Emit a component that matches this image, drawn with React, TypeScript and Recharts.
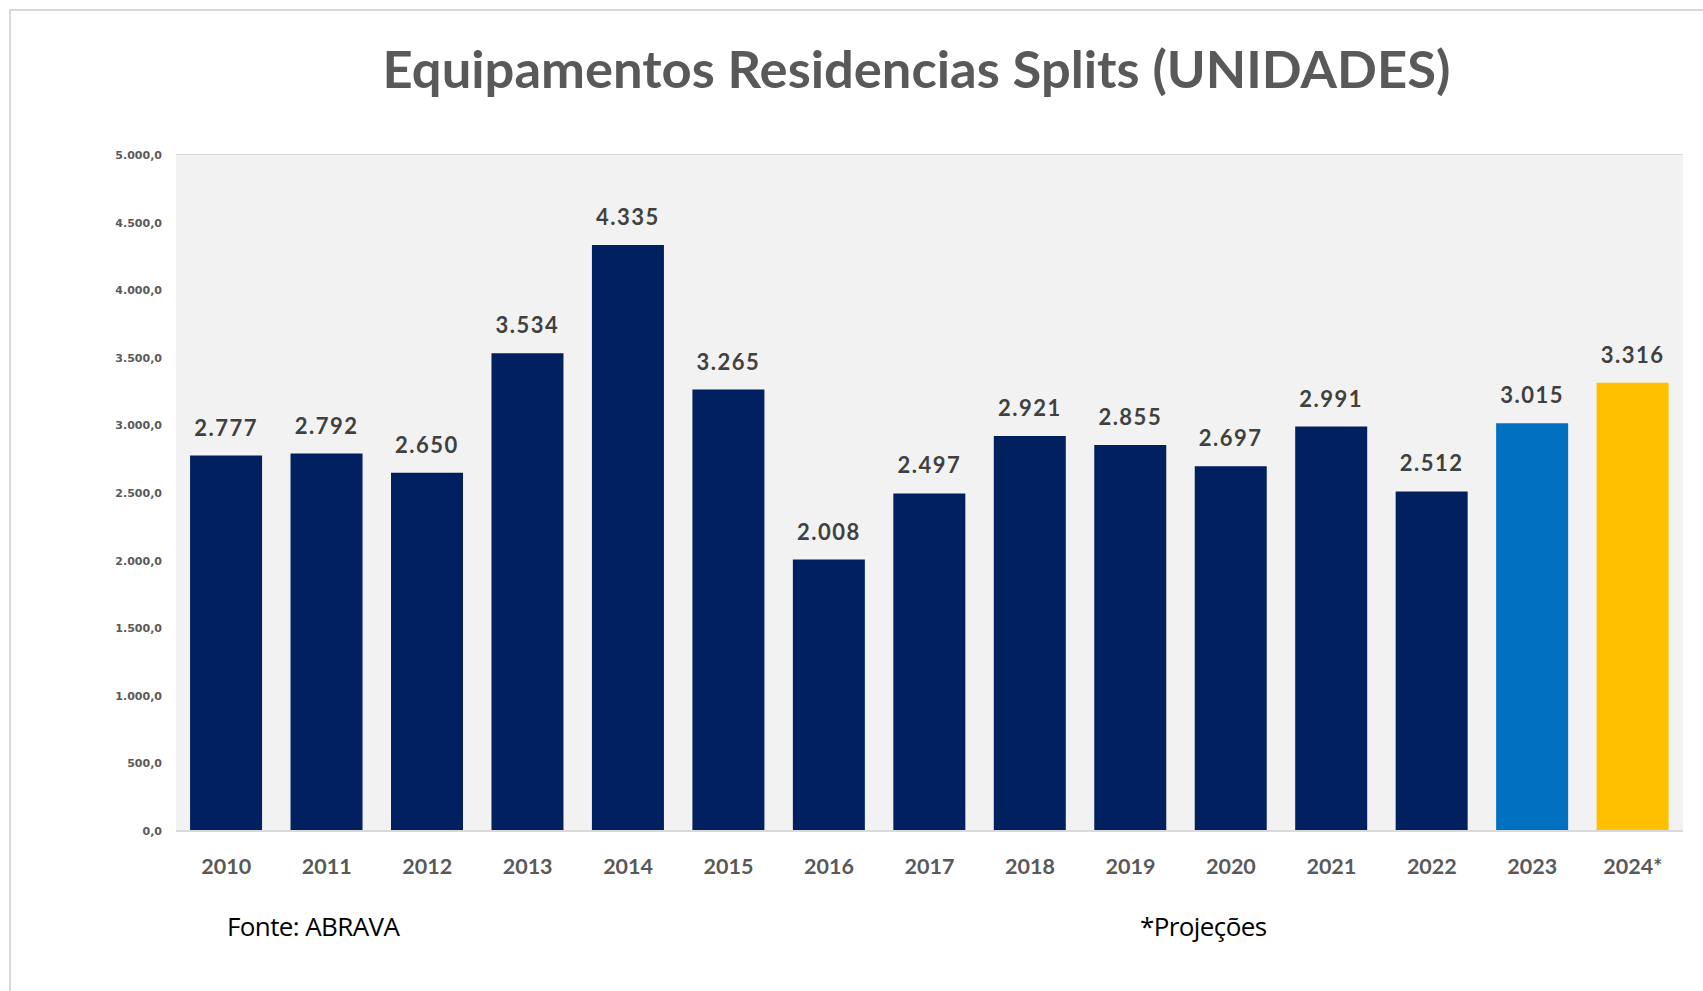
import { BarChart, Bar, XAxis, YAxis, CartesianGrid, Cell, LabelList } from 'recharts';

const years = ['2010', '2011', '2012', '2013', '2014', '2015', '2016', '2017', '2018', '2019', '2020', '2021', '2022', '2023', '2024*'];
const units = [2777, 2792, 2650, 3534, 4335, 3265, 2008, 2497, 2921, 2855, 2697, 2991, 2512, 3015, 3316];
const barColors = ['#002060', '#002060', '#002060', '#002060', '#002060', '#002060', '#002060', '#002060', '#002060', '#002060', '#002060', '#002060', '#002060', '#0070C0', '#FFC000'];
const yTicks = [0, 500, 1000, 1500, 2000, 2500, 3000, 3500, 4000, 4500, 5000];

const rows = years.map((year, i) => ({ year, units: units[i] }));

const thousands = (n: number) => String(Math.round(n)).replace(/\B(?=(\d{3})+(?!\d))/g, '.');
const fmtTick = (v: number) => `${thousands(v)},0`;

const W = 1703;
const H = 991;

export default function App() {
  return (
    <div style={{ position: 'fixed', left: 0, top: 0, width: W, height: H, background: '#fff', overflow: 'hidden' }}>
      <div
        style={{
          position: 'absolute',
          left: 9,
          top: 9,
          width: W,
          height: H,
          borderTop: '2px solid #d9d9d9',
          borderLeft: '2px solid #d9d9d9',
        }}
      />
      <div
        style={{
          position: 'absolute',
          left: 0,
          width: W,
          top: 36,
          textAlign: 'center',
          paddingLeft: 130,
          boxSizing: 'border-box',
          fontFamily: 'Lato, "Open Sans", sans-serif',
          fontWeight: 700,
          fontSize: 52.5,
          color: '#595959',
          lineHeight: '64px',
        }}
      >
        Equipamentos Residencias Splits (UNIDADES)
      </div>
      <BarChart
        width={W}
        height={H}
        data={rows}
        barCategoryGap="14%"
        margin={{ top: 155, right: 20, left: 116, bottom: 120 }}
      >
        <rect x={176} y={155} width={1507} height={676} fill="#F2F2F2" />
        <CartesianGrid stroke="#D9D9D9" strokeWidth={2} vertical={false} />
        <XAxis
          dataKey="year"
          height={40}
          axisLine={{ stroke: '#D9D9D9', strokeWidth: 2 }}
          tickLine={false}
          tickSize={0}
          tickMargin={28}
          interval={0}
          tick={{ fill: '#595959', fontSize: 21.5, fontWeight: 700, fontFamily: 'Lato, "Open Sans", sans-serif' }}
        />
        <YAxis
          width={60}
          domain={[0, 5000]}
          ticks={yTicks}
          axisLine={false}
          tickLine={false}
          tickSize={0}
          tickMargin={14}
          tickFormatter={fmtTick}
          tick={{ fill: '#595959', fontSize: 11, fontWeight: 700, fontFamily: '"DejaVu Sans", Verdana, sans-serif' }}
        />
        <Bar dataKey="units" isAnimationActive={false}>
          {rows.map((r, i) => (
            <Cell key={r.year} fill={barColors[i]} />
          ))}
          <LabelList
            dataKey="units"
            position="top"
            offset={20}
            formatter={(v: any) => thousands(Number(v))}
            style={{ fill: '#404040', fontSize: 22, fontWeight: 700, letterSpacing: 1.5, fontFamily: 'Lato, "Open Sans", sans-serif' }}
          />
        </Bar>
      </BarChart>
      <div
        style={{
          position: 'absolute',
          left: 227,
          top: 908,
          fontFamily: '"Open Sans", sans-serif',
          fontSize: 26,
          color: '#000',
          letterSpacing: -0.6,
        }}
      >
        Fonte: ABRAVA
      </div>
      <div
        style={{
          position: 'absolute',
          left: 1140,
          top: 908,
          fontFamily: '"Open Sans", sans-serif',
          fontSize: 26,
          color: '#000',
          letterSpacing: -0.6,
        }}
      >
        *Projeções
      </div>
    </div>
  );
}
